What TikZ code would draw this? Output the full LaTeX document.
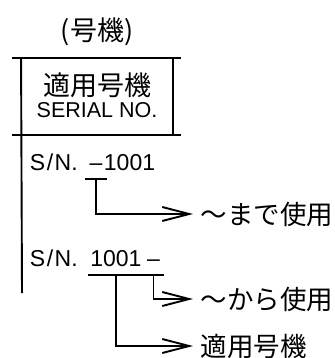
\documentclass[tikz,border=0pt]{standalone}
\usepackage{fontspec}
\setmainfont{Liberation Sans}
\newfontfamily\jp{Noto Sans CJK JP}
\usetikzlibrary{arrows.meta}

\begin{document}
\begin{tikzpicture}[
    x=1pt, y=-1pt,
    line width=1.9pt,
    arrow/.style={
        -{Straight Barb[length=27pt,width=14pt]},
        line width=1.9pt
    },
    jptext/.style={
        font=\jp\fontsize{27}{30}\selectfont,
        inner sep=0pt
    },
    entext/.style={
        font=\fontsize{21.5}{24}\selectfont,
        inner sep=0pt
    },
    serial/.style={ % serial number pieces, south = underline
        font=\fontsize{23}{26}\selectfont,
        inner sep=0pt,
        anchor=base west,
        text height=16pt,
        text depth=8pt
    },
    usenote/.style={
        font=\jp\fontsize{26.5}{30}\selectfont,
        inner sep=0pt,
        anchor=west
    }
]
    \useasboundingbox (0,0) rectangle (334,358);

    % Header
    \node[jptext] (title) at (97,32) {(号機)};
    \node[minimum width=150pt, minimum height=75pt, inner sep=0pt] (frame) at (97,96.5) {};
    \node[jptext] (hdrjp) at (97,85) {適用号機};
    \node[entext] (hdren) at (97,110) {SERIAL NO.};
    \draw ([xshift=-9pt]frame.north west) -- ([xshift=8pt]frame.north east);
    \draw ([xshift=-9pt]frame.south west) -- ([xshift=8pt]frame.south east);
    \draw (frame.north east) -- (frame.south east);
    \coordinate (colend) at (22,293);
    \draw (frame.north west) -- (colend);

    % S/N. -1001
    \node[serial] (sna) at (29,170) {S\kern1.5pt/\kern1.5pt N.};
    \node[serial, minimum width=20pt] (dasha) at (85,170) {--};
    \node[serial] (numa) at (103,170) {1001};
    \draw (dasha.south west) -- (dasha.south east);

    % S/N. 1001-
    \node[serial] (snb) at (29,266) {S\kern1.5pt/\kern1.5pt N.};
    \node[serial, minimum width=54pt] (numb) at (88,266) {1001};
    \node[serial, minimum width=19pt] (dashb) at (143,266) {--};
    \draw (numb.south west) -- (numb.south east);
    \draw (dashb.south west) -- (dashb.south east);

    % Notes
    \node[usenote] (until) at (200,214) {～まで使用};
    \node[usenote] (from) at (200,299) {～から使用};
    \node[usenote] (serno) at (200,346) {適用号機};

    \draw[arrow] (dasha.south) |- ([xshift=-7pt]until.west);
    \draw[arrow] (dashb.south) |- ([xshift=-7pt]from.west);
    \draw[arrow] (numb.south) |- ([xshift=-7pt]serno.west);

\end{tikzpicture}
\end{document}
